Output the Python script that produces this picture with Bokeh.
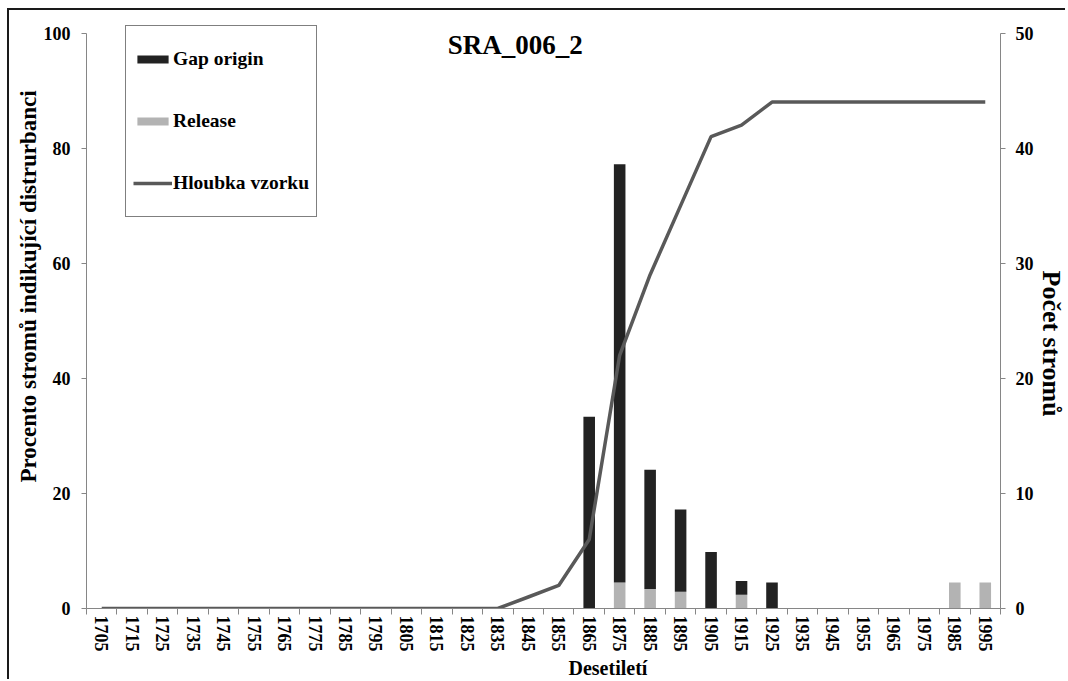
from bokeh.plotting import figure
from bokeh.models import (Range1d, LinearAxis, FixedTicker, Legend, LegendItem,
                          Label, Title, ColumnDataSource)
from bokeh.embed import file_html
from bokeh.resources import INLINE

# ---- data ----
decades = [1705, 1715, 1725, 1735, 1745, 1755, 1765, 1775, 1785, 1795,
           1805, 1815, 1825, 1835, 1845, 1855, 1865, 1875, 1885, 1895,
           1905, 1915, 1925, 1935, 1945, 1955, 1965, 1975, 1985, 1995]
gap_origin = [0, 0, 0, 0, 0, 0, 0, 0, 0, 0,
              0, 0, 0, 0, 0, 0, 33.3, 72.7, 20.7, 14.3,
              9.8, 2.4, 4.5, 0, 0, 0, 0, 0, 0, 0]
release = [0, 0, 0, 0, 0, 0, 0, 0, 0, 0,
           0, 0, 0, 0, 0, 0, 0, 4.5, 3.4, 2.9,
           0, 2.4, 0, 0, 0, 0, 0, 0, 4.5, 4.5]
sample_depth = [0, 0, 0, 0, 0, 0, 0, 0, 0, 0,
                0, 0, 0, 0, 1, 2, 6, 22, 29, 35,
                41, 42, 44, 44, 44, 44, 44, 44, 44, 44]
left_ticks = [0, 20, 40, 60, 80, 100]
right_ticks = [0, 10, 20, 30, 40, 50]
decade_edges = [1700 + 10 * i for i in range(31)]

title_text = "SRA_006_2"
y_label = "Procento stromů indikující distrurbanci"
y2_label = "Počet stromů"
x_label = "Desetiletí"
FONT = "Liberation Serif"
AXIS_COLOR = "#868686"

src = ColumnDataSource(dict(x=decades, gap=gap_origin, rel=release, depth=sample_depth))

p = figure(width=1058, height=671, output_backend="svg", toolbar_location=None,
           x_range=Range1d(1700, 2000), y_range=Range1d(0, 102),
           min_border_left=77, min_border_right=66, min_border_top=11, min_border_bottom=73)
p.styles = {"margin-left": "7px", "margin-top": "8px",
            "border-top": "2px solid #1a1a1a", "border-left": "2px solid #1a1a1a"}
p.outline_line_color = None
p.xgrid.visible = False
p.ygrid.visible = False
p.extra_y_ranges = {"depth": Range1d(0, 51)}

bars = p.vbar_stack(["rel", "gap"], x="x", width=3.8, source=src,
                    color=["#b3b3b3", "#222222"], line_color=None)
line = p.line("x", "depth", source=src, y_range_name="depth",
              line_color="#595959", line_width=3.5)

def style_axis(ax):
    ax.axis_line_color = AXIS_COLOR
    ax.major_tick_line_color = AXIS_COLOR
    ax.minor_tick_line_color = AXIS_COLOR
    ax.major_tick_in = 0
    ax.minor_tick_in = 0
    ax.major_label_text_font = FONT
    ax.major_label_text_font_style = "bold"
    ax.major_label_text_color = "#000000"

# left axis
ya = p.yaxis[0]
ya.ticker = FixedTicker(ticks=left_ticks, minor_ticks=[])
ya.bounds = (0, 100)
style_axis(ya)
ya.major_tick_out = 5
ya.minor_tick_out = 0
ya.major_label_text_font_size = "18px"
ya.major_label_standoff = 11

# right axis
ra = LinearAxis(y_range_name="depth", ticker=FixedTicker(ticks=right_ticks, minor_ticks=[]),
                bounds=(0, 50))
style_axis(ra)
ra.major_tick_out = 5
ra.minor_tick_out = 0
ra.major_label_text_font_size = "18px"
ra.major_label_standoff = 10
p.add_layout(ra, "right")

# bottom axis
xa = p.xaxis[0]
xa.ticker = FixedTicker(ticks=decades, minor_ticks=decade_edges)
style_axis(xa)
xa.major_tick_out = 0
xa.minor_tick_out = 6
xa.major_label_text_font_size = "18px"
xa.major_label_orientation = "vertical"
xa.major_label_standoff = 1

def side_title(text, size, offset, side):
    t = Title(text=text, align="left", offset=offset, standoff=0,
              text_font=FONT, text_font_style="bold", text_font_size=size,
              text_color="#000000")
    p.add_layout(t, side)

side_title(y_label, "23px", 126, "left")
side_title(y2_label, "26px", 249, "right")
side_title(x_label, "20px", 482, "below")

p.add_layout(Label(x=1840.7, y=98.0, text=title_text, text_font=FONT,
                   text_font_style="bold", text_font_size="27px",
                   text_align="center", text_baseline="middle", text_color="#000000"))

legend = Legend(items=[LegendItem(label="Gap origin", renderers=[bars[1]]),
                       LegendItem(label="Release", renderers=[bars[0]]),
                       LegendItem(label="Hloubka vzorku", renderers=[line])],
                location=(39, 391), margin=0, padding=7, spacing=10,
                glyph_width=39, glyph_height=10, label_height=52, label_standoff=1,
                label_text_font=FONT, label_text_font_style="bold",
                label_text_font_size="19.5px", label_text_color="#000000",
                title_text_font_size="1px", title_standoff=0,
                border_line_color="#000000", border_line_width=1,
                background_fill_color="#ffffff", background_fill_alpha=1)
p.add_layout(legend, "center")

open("out.html", "w").write(file_html(p, INLINE))
